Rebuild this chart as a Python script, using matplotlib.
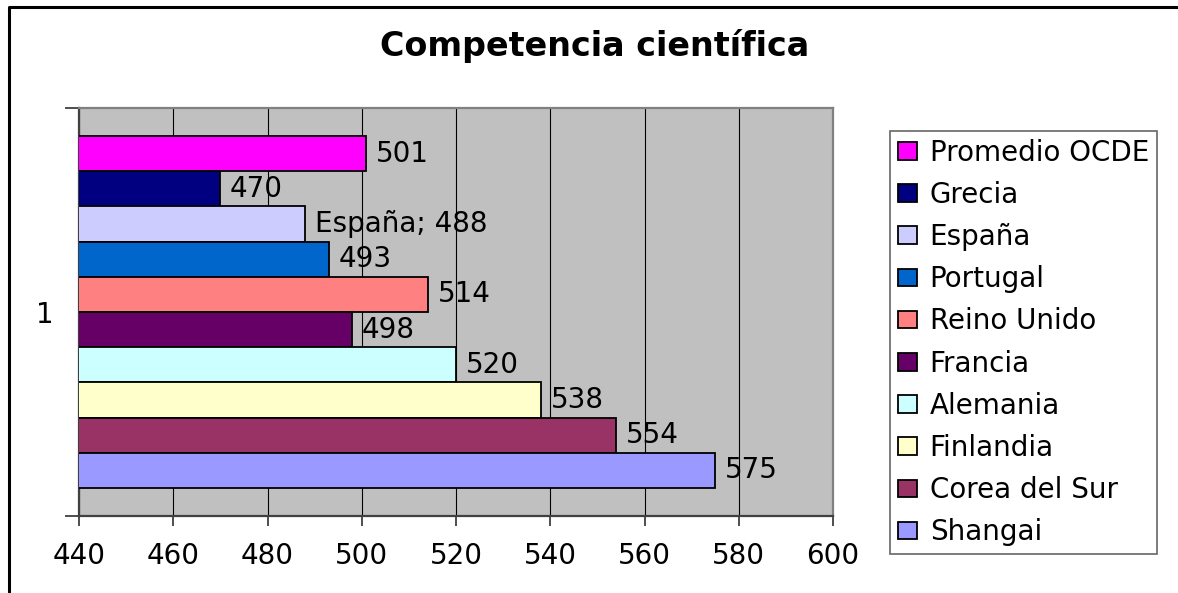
import numpy as np
import matplotlib
matplotlib.use("Agg")
import matplotlib.pyplot as plt
from matplotlib.lines import Line2D

# ---- data (top to bottom as shown) ----
countries = ['Promedio OCDE', 'Grecia', 'España', 'Portugal', 'Reino Unido',
             'Francia', 'Alemania', 'Finlandia', 'Corea del Sur', 'Shangai']
values = [501, 470, 488, 493, 514, 498, 520, 538, 554, 575]
colors = ['#FF00FF', '#000080', '#CCCCFF', '#0066CC', '#FF8080',
          '#660066', '#CCFFFF', '#FFFFCC', '#993366', '#9999FF']
value_labels = ['501', '470', 'España; 488', '493', '514',
                '498', '520', '538', '554', '575']
x_ticks = [440, 460, 480, 500, 520, 540, 560, 580, 600]
category_label = '1'
title = 'Competencia científica'

plt.rcParams['font.family'] = ['DejaVu Sans']
FS = 20

W, H = 1178, 593
fig = plt.figure(figsize=(W / 100, H / 100), dpi=100)
fig.patch.set_facecolor('white')

ax = fig.add_axes([79 / W, 1 - 516 / H, (833 - 79) / W, (516 - 108) / H])
ax.set_facecolor('#C0C0C0')

n = len(countries)
group = 0.863
h = group / n
for i, (c, v, col, lab) in enumerate(zip(countries, values, colors, value_labels)):
    y = 1 + (n / 2 - 0.5 - i) * h
    bars = ax.barh(y, v, height=h, color=col, edgecolor='black', linewidth=1.3,
                   label=c, zorder=3)
    ax.bar_label(bars, labels=[lab], padding=7, fontsize=FS, color='black', zorder=5)

ax.set_xlim(x_ticks[0], x_ticks[-1])
ax.set_ylim(0.5, 1.5)
ax.set_xticks(x_ticks)
ax.set_xticklabels([str(t) for t in x_ticks], fontsize=FS)
ax.set_yticks([1])
ax.set_yticklabels([category_label], fontsize=FS)
ax.set_yticks([0.5, 1.5], minor=True)
ax.tick_params(axis='y', which='major', length=0, pad=18.5)
ax.tick_params(axis='y', which='minor', length=10, width=1.3, color='#404040', direction='out')
ax.tick_params(axis='x', which='major', length=7, width=1.3, color='#404040', direction='out', pad=12)
ax.grid(axis='x', color='black', linewidth=0.8, zorder=1)
ax.set_axisbelow(True)
for s in ['left', 'bottom']:
    ax.spines[s].set_color('#404040')
    ax.spines[s].set_linewidth(1.6)
for s in ['top', 'right']:
    ax.spines[s].set_color('#808080')
    ax.spines[s].set_linewidth(1.6)

fig.text(595 / W, 1 - 56 / H, title, ha='center', va='baseline',
         fontsize=24, fontweight='bold')

leg = fig.legend(loc='upper left', bbox_to_anchor=(890 / W, 1 - 131 / H),
                 bbox_transform=fig.transFigure, borderaxespad=0,
                 fontsize=FS, frameon=True, fancybox=False, shadow=False,
                 handlelength=0.7, handleheight=0.6, handletextpad=0.45,
                 labelspacing=0.51, borderpad=0.28)
leg.get_frame().set_edgecolor('#404040')
leg.get_frame().set_linewidth(1.2)
for p in leg.get_patches():
    p.set_linewidth(1.3)

# outer chart border (left and top visible)
fig.add_artist(Line2D([8.5 / W, 8.5 / W, 1.0], [0.0, 1 - 7 / H, 1 - 7 / H],
                      transform=fig.transFigure, color='black', linewidth=2.2))

fig.savefig('out.png', dpi=100, facecolor='white')
